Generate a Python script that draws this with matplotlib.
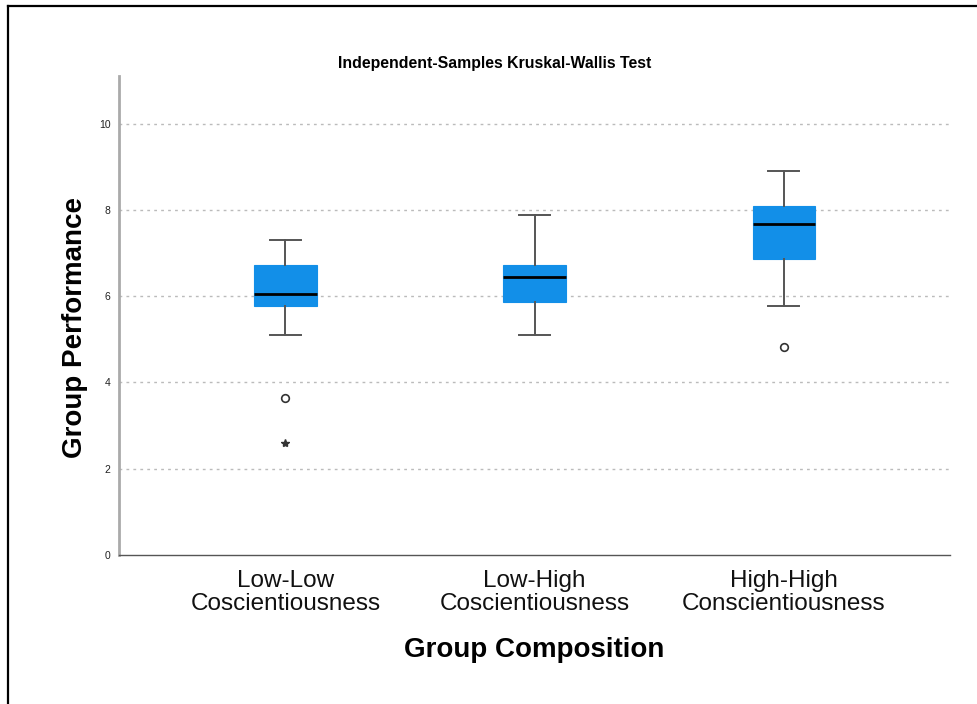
import matplotlib
matplotlib.use("Agg")
import matplotlib.pyplot as plt
from matplotlib.lines import Line2D

plt.rcParams['font.family'] = ['Liberation Sans', 'DejaVu Sans']

# values
groups = ["Low-Low\nCoscientiousness", "Low-High\nCoscientiousness", "High-High\nConscientiousness"]
whisker_low = [5.09, 5.09, 5.76]
q1 = [5.78, 5.86, 6.85]
medians = [6.04, 6.44, 7.66]
q3 = [6.71, 6.72, 8.09]
whisker_high = [7.29, 7.87, 8.91]
outliers = [[3.64], [], [4.82]]
extremes = [[2.60], [], []]
y_ticks = [0, 2, 4, 6, 8, 10]

box_color = "#128FE8"

stats = []
for i in range(len(groups)):
    stats.append({
        "whislo": whisker_low[i], "q1": q1[i], "med": medians[i],
        "q3": q3[i], "whishi": whisker_high[i], "fliers": outliers[i],
    })

fig = plt.figure(figsize=(9.77, 7.04), dpi=100)
ax = fig.add_axes([0.1218, 0.2116, 0.8506, 0.6804])

positions = list(range(1, len(groups) + 1))
ax.bxp(stats, positions=positions, widths=0.25, patch_artist=True,
       boxprops=dict(facecolor=box_color, edgecolor=box_color, linewidth=0.8),
       medianprops=dict(color="black", linewidth=2),
       whiskerprops=dict(color="#555555", linewidth=1.4),
       capprops=dict(color="#555555", linewidth=1.4),
       flierprops=dict(marker="o", markersize=5.5, markerfacecolor="white",
                       markeredgecolor="#333333", markeredgewidth=1.2),
       zorder=3)

# extreme values drawn as stars
for pos, ext in zip(positions, extremes):
    if ext:
        ax.plot([pos] * len(ext), ext, linestyle="none", marker="*",
                markersize=6, color="#333333", zorder=4)

ax.set_xlim(0.332, 3.667)
ax.set_ylim(0, 11.1)
ax.set_yticks(y_ticks)
ax.set_yticklabels([str(t) for t in y_ticks])
ax.set_xticks(positions)
ax.set_xticklabels(groups, fontsize=17.5, linespacing=1.02)

ax.tick_params(axis="y", length=0, pad=6, labelsize=7.5, labelcolor="#222222")
ax.tick_params(axis="x", length=0, pad=11, labelcolor="#111111")

for t in y_ticks[1:]:
    ax.axhline(t, color="#bbbbbb", linestyle=(0, (2, 3)), linewidth=1, zorder=1)

ax.spines["top"].set_visible(False)
ax.spines["right"].set_visible(False)
ax.spines["left"].set_color("#aaaaaa")
ax.spines["left"].set_linewidth(2)
ax.spines["bottom"].set_color("#555555")
ax.spines["bottom"].set_linewidth(1)

ax.set_title("Independent-Samples Kruskal-Wallis Test", fontsize=11.4,
             fontweight="bold", pad=5.5, x=0.452)
ax.set_ylabel("Group Performance", fontsize=20, fontweight="bold", labelpad=8, y=0.474)
ax.set_xlabel("Group Composition", fontsize=20, fontweight="bold", labelpad=16)

# outer frame (only left and top edges fall inside the picture)
W, H = 977, 704
fig.add_artist(Line2D([8 / W, 8 / W], [0, 1 - 6 / H], color="black", linewidth=1.6,
                      transform=fig.transFigure))
fig.add_artist(Line2D([8 / W, 1], [1 - 6 / H, 1 - 6 / H], color="black", linewidth=1.6,
                      transform=fig.transFigure))

fig.savefig("out.png", dpi=100)
